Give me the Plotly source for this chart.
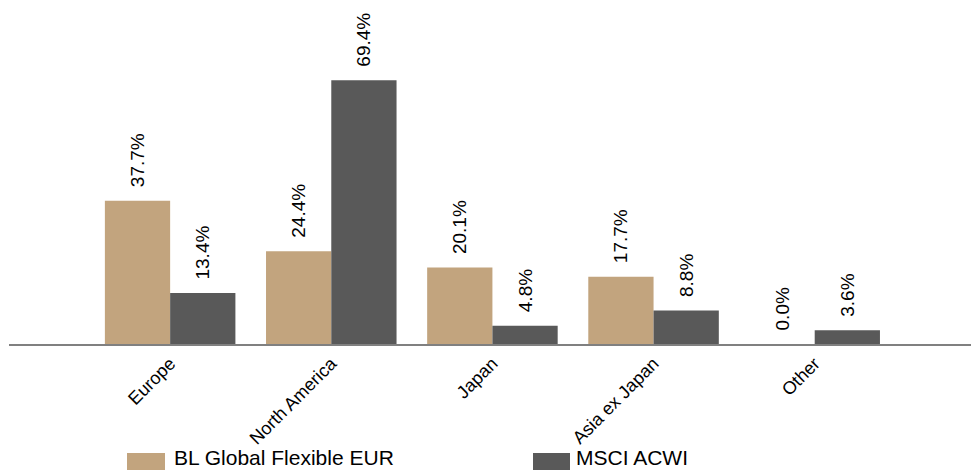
import plotly.graph_objects as go

categories = ["Europe", "North America", "Japan", "Asia ex Japan", "Other"]
fund_name = "BL Global Flexible EUR"
bench_name = "MSCI ACWI"
fund_values = [37.7, 24.4, 20.1, 17.7, 0.0]
bench_values = [13.4, 69.4, 4.8, 8.8, 3.6]

TAN = "#C2A47E"
DARK = "#595959"
FONT = "Arial, Liberation Sans, sans-serif"

L, R, T, B = 9, 0, 0, 126
W, H = 971, 470
pw, ph = W - L - R, H - T - B

def px(x):
    return (x - L) / pw

def py(y):
    return (H - B - y) / ph

fig = go.Figure()
for name, vals, col in [(fund_name, fund_values, TAN), (bench_name, bench_values, DARK)]:
    fig.add_trace(go.Bar(
        x=categories, y=vals, name=name, marker_color=col, marker_line_width=0,
        text=["\u00a0\u00a0" + f"{v:.1f}%" for v in vals], textposition="outside", textangle=-90,
        textfont=dict(family=FONT, size=19, color="black"), cliponaxis=False,
        showlegend=False,
    ))

shapes = []
annotations = []
for (x0, x1, tx, name, col) in [(127, 165, 173, fund_name, TAN), (533, 570, 575, bench_name, DARK)]:
    shapes.append(dict(type="rect", xref="paper", yref="paper", x0=px(x0), x1=px(x1),
                       y0=py(453), y1=py(472), fillcolor=col, line_width=0, layer="above"))
    annotations.append(dict(xref="paper", yref="paper", x=px(tx), y=py(470), text=name,
                            showarrow=False, xanchor="left", yanchor="bottom", borderpad=0,
                            font=dict(family=FONT, size=21, color="black")))

fig.update_layout(
    width=W, height=H, margin=dict(l=L, r=R, t=T, b=B),
    paper_bgcolor="white", plot_bgcolor="white",
    barmode="group", bargap=0.19, bargroupgap=0,
    font=dict(family=FONT, size=19, color="black"),
    xaxis=dict(range=[-1.0, 4.97], tickangle=-45, showline=True, linecolor="#808080",
               linewidth=2, ticks="", showgrid=False, tickfont=dict(family=FONT, size=18)),
    yaxis=dict(range=[0, 90.5], visible=False, showgrid=False),
    shapes=shapes, annotations=annotations,
)
fig.write_html("out.html")
